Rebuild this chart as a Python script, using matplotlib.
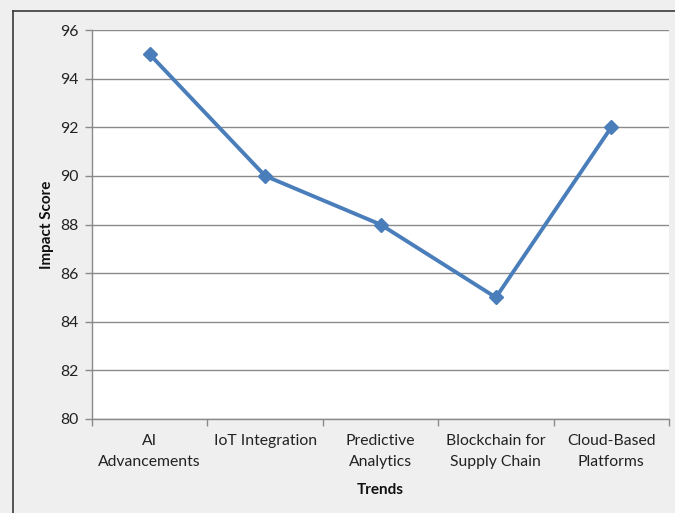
import matplotlib
matplotlib.use("Agg")
import matplotlib.pyplot as plt
from matplotlib.lines import Line2D

categories = ["AI\nAdvancements", "IoT Integration", "Predictive\nAnalytics",
              "Blockchain for\nSupply Chain", "Cloud-Based\nPlatforms"]
impact = [95, 90, 88, 85, 92]
y_ticks = [80, 82, 84, 86, 88, 90, 92, 94, 96]

plt.rcParams['font.family'] = ['Lato', 'DejaVu Sans']

W, H = 675, 513
fig = plt.figure(figsize=(W / 100, H / 100), dpi=100, facecolor="#EFEFEF")

# outer chart border (left and top visible)
fig.add_artist(Line2D([12.5 / W, 12.5 / W], [0, 1 - 10.5 / H], transform=fig.transFigure,
                      color="#3a3a3a", lw=1.2))
fig.add_artist(Line2D([12.5 / W, 1], [1 - 10.5 / H, 1 - 10.5 / H], transform=fig.transFigure,
                      color="#3a3a3a", lw=1.2))

left, right, top, bottom = 92, 669, 30, 419
ax = fig.add_axes([left / W, 1 - bottom / H, (right - left) / W, (bottom - top) / H])
ax.set_facecolor("white")

x = list(range(len(categories)))
ax.plot(x, impact, color="#4A7EBB", lw=2.8, marker="D", markersize=7,
        markerfacecolor="#4A7EBB", markeredgecolor="#4A7EBB", zorder=3)

ax.set_xlim(-0.5, len(categories) - 0.5)
ax.set_ylim(80, 96)
ax.set_yticks(y_ticks)
ax.set_yticklabels([str(v) for v in y_ticks], fontsize=11.3, color="#222222")
ax.yaxis.grid(True, color="#8a8a8a", lw=1.0)
ax.set_axisbelow(True)

ax.set_xticks(x)
ax.set_xticklabels(categories, fontsize=11.3, color="#222222", linespacing=1.6)
ax.tick_params(axis="x", which="major", length=0, pad=11)
ax.set_xticks([i - 0.5 for i in range(len(categories) + 1)], minor=True)
ax.tick_params(axis="x", which="minor", length=5, color="#8a8a8a", width=1, direction="out")
ax.tick_params(axis="y", length=5, color="#8a8a8a", width=1, direction="out", pad=5)

for s in ["top", "right"]:
    ax.spines[s].set_visible(False)
for s in ["left", "bottom"]:
    ax.spines[s].set_color("#8a8a8a")
    ax.spines[s].set_linewidth(1.0)

ax.set_ylabel("Impact Score", fontsize=11, fontweight="bold", color="#111111", labelpad=4)
ax.set_xlabel("Trends", fontsize=11, fontweight="bold", color="#111111", labelpad=10)

fig.savefig("out.png", dpi=100, facecolor=fig.get_facecolor())
